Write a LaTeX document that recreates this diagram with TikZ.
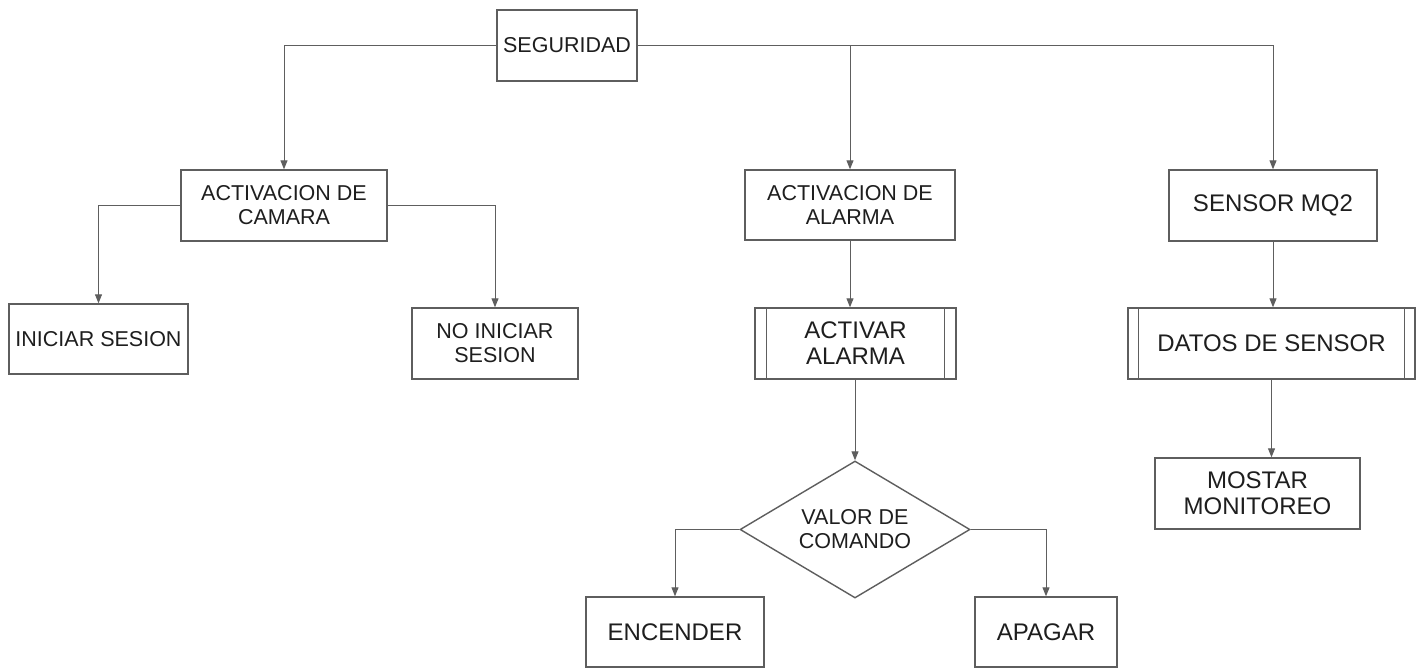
\documentclass[tikz,border=0pt]{standalone}
\usepackage{fontspec}
\setmainfont{Liberation Sans}
\usetikzlibrary{arrows.meta,shapes.geometric,calc}
\definecolor{ln}{HTML}{5E5E5E}
\definecolor{tx}{HTML}{1E1E1E}
\tikzset{
  box/.style={draw=ln, line width=1.4pt, rectangle, inner sep=0pt, text=tx, align=center},
  small/.style={font=\fontsize{21.5}{24}\selectfont},
  big/.style={font=\fontsize{24}{26}\selectfont},
  arr/.style={draw=ln, line width=1pt, -{Triangle[length=9pt,width=7pt]}},
  conn/.style={draw=ln, line width=1pt},
  bar/.style={draw=ln, line width=1.4pt}
}
\newcommand{\bx}[7]{% name, x1,y1,x2,y2, style, text
  \node[box,#6, minimum width={#4-#2}, minimum height={#5-#3}] (#1) at ({(#2+#4)/2},{(#3+#5)/2}) {#7};}
\begin{document}
\begin{tikzpicture}[x=1pt,y=-1pt]
\useasboundingbox[fill=white] (0,0) rectangle (1424,669);
\bx{seg}{497}{10}{637}{81}{small}{SEGURIDAD}
\bx{cam}{181}{170}{387}{241}{small}{ACTIVACION DE\\CAMARA}
\bx{ini}{9}{304}{188}{374}{small}{INICIAR SESION}
\bx{noi}{412}{308}{578}{379}{small}{NO INICIAR\\SESION}
\bx{ala}{745}{170}{955}{240}{small}{ACTIVACION DE\\ALARMA}
\bx{act}{755}{308}{956}{379}{big}{ACTIVAR\\ALARMA}
\node[diamond, draw=ln, line width=1.4pt, inner sep=0pt, aspect=1.68, minimum width=230pt, minimum height=137pt, text=tx, align=center, small] (val) at (855,529.5) {VALOR DE\\COMANDO};
\bx{enc}{586}{597}{764}{667}{big}{ENCENDER}
\bx{apa}{975}{597}{1117}{667}{big}{APAGAR}
\bx{sen}{1169}{170}{1377}{241}{big}{SENSOR MQ2}
\bx{dat}{1128}{308}{1415}{379}{big}{DATOS DE SENSOR}
\bx{mos}{1155}{458}{1360}{529}{big}{MOSTAR\\MONITOREO}
% double bars
\draw[bar] ([xshift=12pt]act.north west) -- ([xshift=12pt]act.south west);
\draw[bar] ([xshift=-12pt]act.north east) -- ([xshift=-12pt]act.south east);
\draw[bar] ([xshift=11pt]dat.north west) -- ([xshift=11pt]dat.south west);
\draw[bar] ([xshift=-11pt]dat.north east) -- ([xshift=-11pt]dat.south east);
% connectors
\draw[arr] (seg.west) -| (cam.north);
\draw[arr] (seg.east) -| (sen.north);
\coordinate (j1) at (seg.east -| ala.north);
\draw[arr] (j1) -- (ala.north);
\draw[arr] (cam.west) -| (ini.north);
\draw[arr] (cam.east) -| (noi.north);
\draw[arr] (ala.south) -- (ala.south |- act.north);
\draw[arr] (act.south -| val.north) -- (val.north);
\draw[arr] (val.west) -| (enc.north);
\draw[arr] (val.east) -| (apa.north);
\draw[arr] (sen.south) -- (sen.south |- dat.north);
\draw[arr] (dat.south) -- (dat.south |- mos.north);
\end{tikzpicture}
\end{document}
